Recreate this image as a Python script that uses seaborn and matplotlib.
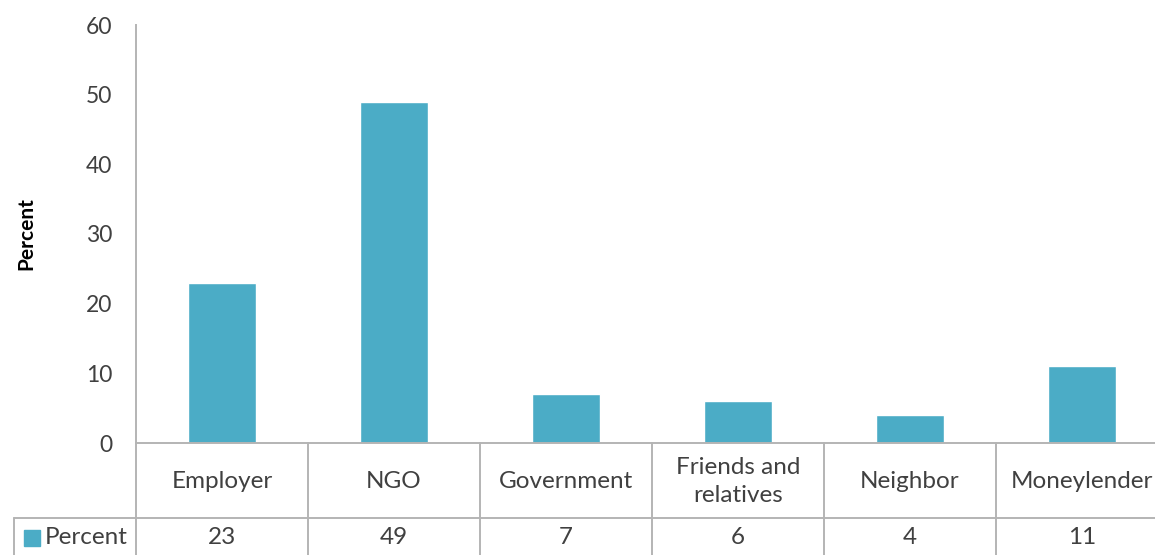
import matplotlib
matplotlib.use("Agg")
import matplotlib.pyplot as plt
import matplotlib.transforms as mtransforms
import seaborn as sns
import pandas as pd

categories = ["Employer", "NGO", "Government", "Friends and\nrelatives", "Neighbor", "Moneylender"]
percent = [23, 49, 7, 6, 4, 11]
series_name = "Percent"
y_ticks = [0, 10, 20, 30, 40, 50, 60]

bar_color = "#4BACC6"
text_color = "#404040"
line_color = "#B4B4B4"

sns.set_theme(style="white")
plt.rcParams["font.family"] = ["Lato", "DejaVu Sans"]

W, H = 1155, 555
fig = plt.figure(figsize=(W / 100, H / 100), dpi=100)

# plot area in pixel units (the data table runs past the right edge)
left, right, top, bottom = 136, 1168, 25, 443
ax = fig.add_axes([left / W, (H - bottom) / H, (right - left) / W, (bottom - top) / H])

df = pd.DataFrame({"category": categories, "value": percent})
sns.barplot(data=df, x="category", y="value", color=bar_color, width=0.4,
            saturation=1, ax=ax)

fs = 17.5
ax.set_xlim(-0.5, len(categories) - 0.5)
ax.set_ylim(0, 60)
ax.set_yticks(y_ticks)
ax.set_yticklabels([str(t) for t in y_ticks], fontsize=16.5, color=text_color)
ax.tick_params(axis="y", length=0, pad=17)
ax.set_xticks([])
ax.set_xlabel("")
ax.set_ylabel("Percent", fontsize=15, fontweight="bold", color="black", labelpad=36)

for side in ["top", "right"]:
    ax.spines[side].set_visible(False)
ax.spines["left"].set_color(line_color)
ax.spines["left"].set_linewidth(1.4)
ax.spines["bottom"].set_color(line_color)
ax.spines["bottom"].set_linewidth(1.4)

# data table below the plot: y measured in axes fraction
trans = mtransforms.blended_transform_factory(ax.transData, ax.transAxes)
px = 1.0 / (bottom - top)
step_px = (right - left) / len(categories)
row1_bottom = -(518 - bottom) * px
table_bottom = -(560 - bottom) * px
x_left_cell = -0.5 - (left - 14) / step_px

line_kw = dict(color=line_color, linewidth=1.4, clip_on=False, transform=trans)

# vertical separators between categories
for i in range(len(categories) + 1):
    x = i - 0.5
    ax.plot([x, x], [0, table_bottom], **line_kw)
# row separator, extending under the legend cell
ax.plot([x_left_cell, len(categories) - 0.5], [row1_bottom, row1_bottom], **line_kw)
ax.plot([x_left_cell, x_left_cell], [row1_bottom, table_bottom], **line_kw)

# category names
for i, name in enumerate(categories):
    ax.text(i, row1_bottom / 2 - 1 * px, name, transform=trans, ha="center", va="center",
            fontsize=fs, color=text_color, linespacing=1.4, clip_on=False)

# values row
val_y = -(538 - bottom) * px
for i, v in enumerate(percent):
    ax.text(i, val_y, f"{v}", transform=trans, ha="center", va="center",
            fontsize=fs, color=text_color, clip_on=False)

# legend key in the table's row header
key_x = x_left_cell + 10 / step_px
ax.add_patch(plt.Rectangle((key_x, val_y - 8 * px), 16 / step_px, 16 * px, transform=trans,
                           color=bar_color, clip_on=False))
ax.text(key_x + 21 / step_px, val_y, series_name, transform=trans, ha="left", va="center",
        fontsize=fs, color=text_color, clip_on=False)

fig.savefig("out.png", dpi=100)
